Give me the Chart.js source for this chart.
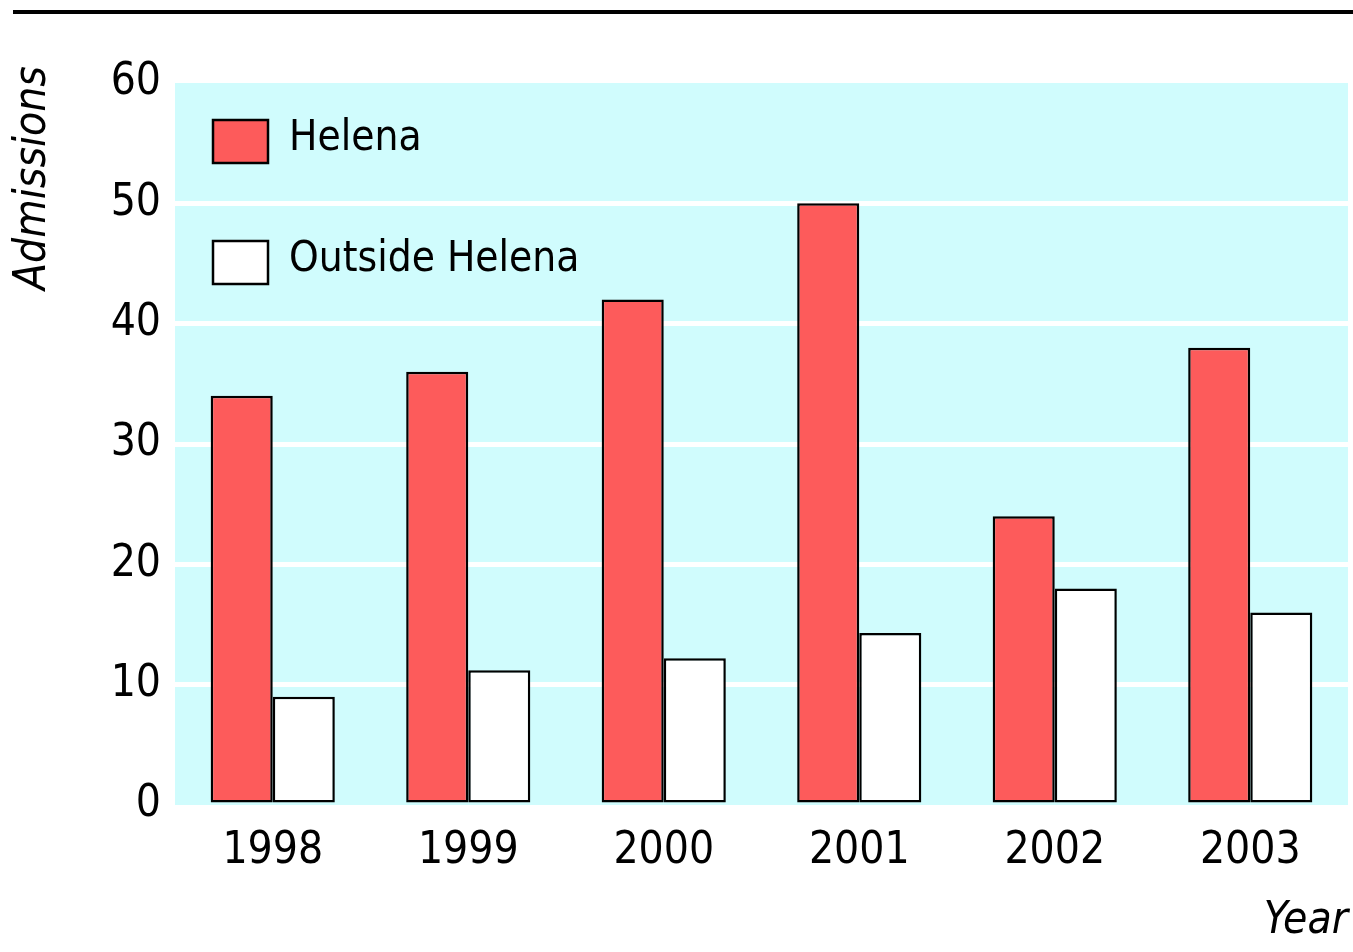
<!DOCTYPE html>
<html>
<head>
<meta charset="utf-8">
<script src="https://cdn.jsdelivr.net/npm/chart.js@4/dist/chart.umd.min.js"></script>
<style>
  html, body { margin: 0; padding: 0; background: #ffffff; }
  #wrap { width: 1353px; height: 952px; position: relative; }
</style>
</head>
<body>
<div id="wrap"><canvas id="admChart"></canvas></div>
<script>
// Data
const years = ['1998', '1999', '2000', '2001', '2002', '2003'];
const helena = [34, 36, 42, 50, 24, 38];
const outsideHelena = [9, 11.2, 12.2, 14.3, 18, 16];
const yTicks = [0, 10, 20, 30, 40, 50, 60];

const FONT = "'Liberation Sans Narrow', 'DejaVu Sans Condensed', 'Liberation Sans', sans-serif";
const RED = '#fd5b5b';
const CYAN = '#d0fcfd';

// cyan panel behind the bars + black rule at the top
const backdrop = {
    id: 'backdrop',
    beforeDraw(chart) {
        const { ctx, chartArea: a } = chart;
        ctx.save();
        ctx.fillStyle = CYAN;
        ctx.fillRect(a.left, a.top, a.right - a.left, a.bottom - a.top);
        ctx.fillStyle = '#000';
        ctx.fillRect(13, 10, chart.width - 13, 4);
        ctx.restore();
    }
};

// legend inside the plot + y title
const extras = {
    id: 'extras',
    afterDraw(chart) {
        const { ctx } = chart;
        ctx.save();
        chart.data.datasets.forEach((ds, i) => {
            const y = 120 + i * 121;
            ctx.fillStyle = ds.backgroundColor;
            ctx.fillRect(213, y, 55, 43);
            ctx.lineWidth = 2.5;
            ctx.strokeStyle = '#000';
            ctx.strokeRect(213, y, 55, 43);
            ctx.fillStyle = '#000';
            ctx.font = '42px ' + FONT;
            ctx.textBaseline = 'middle';
            ctx.textAlign = 'left';
            ctx.fillText(ds.label, 289, y + 19);
        });
        ctx.translate(34, 178);
        ctx.rotate(-Math.PI / 2);
        ctx.font = 'italic 44px ' + FONT;
        ctx.textAlign = 'center';
        ctx.textBaseline = 'middle';
        ctx.fillText('Admissions', 0, 0);
        ctx.restore();
    }
};

new Chart(document.getElementById('admChart'), {
    type: 'bar',
    data: {
        labels: years,
        datasets: [
            {
                label: 'Helena',
                data: helena,
                backgroundColor: RED,
                borderColor: '#000',
                borderWidth: 2.5,
                borderSkipped: false
            },
            {
                label: 'Outside Helena',
                data: outsideHelena,
                backgroundColor: '#ffffff',
                borderColor: '#000',
                borderWidth: 2.5,
                borderSkipped: false
            }
        ]
    },
    options: {
        responsive: true,
        maintainAspectRatio: false,
        animation: false,
        datasets: { bar: { categoryPercentage: 0.635, barPercentage: 1.0 } },
        layout: { padding: { top: 83, right: 5, left: 0, bottom: 0 } },
        plugins: {
            legend: { display: false },
            tooltip: { enabled: false }
        },
        scales: {
            x: {
                grid: { display: false },
                border: { display: false },
                ticks: {
                    color: '#000',
                    font: { family: FONT, size: 44 },
                    padding: 12,
                    maxRotation: 0
                },
                title: {
                    display: true,
                    text: 'Year',
                    align: 'end',
                    color: '#000',
                    font: { family: FONT, size: 44, style: 'italic' },
                    padding: { top: 18 }
                },
                afterFit(scale) { scale.height = 147; }
            },
            y: {
                min: 0,
                max: 60,
                afterBuildTicks(scale) {
                    scale.ticks = yTicks.map(v => ({ value: v }));
                },
                grid: {
                    drawTicks: false,
                    lineWidth: 5,
                    color: ctx => (ctx.tick && (ctx.tick.value === 0 || ctx.tick.value === 60)) ? 'rgba(0,0,0,0)' : '#ffffff'
                },
                border: { display: false },
                ticks: {
                    color: '#000',
                    font: { family: FONT, size: 44 },
                    padding: 14
                },
                afterFit(scale) { scale.width = 175; }
            }
        }
    },
    plugins: [backdrop, extras]
});
</script>
</body>
</html>
